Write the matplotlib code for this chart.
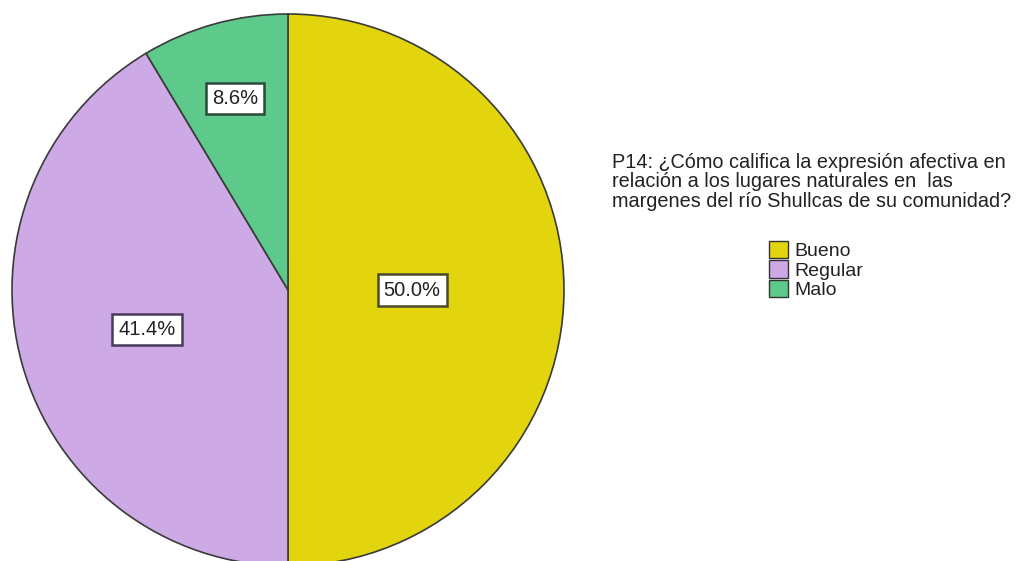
import matplotlib
matplotlib.use("Agg")
import matplotlib.pyplot as plt
from matplotlib.patches import Patch
import numpy as np

categories = ["Bueno", "Regular", "Malo"]
percentages = [50.0, 41.4, 8.6]
colors = ["#E2D50E", "#CDA9E5", "#5DC98B"]
label_texts = ["50.0%", "41.4%", "8.6%"]
title_lines = ["P14: ¿Cómo califica la expresión afectiva en",
               "relación a los lugares naturales en  las",
               "margenes del río Shullcas de su comunidad?"]

W, H = 1018, 561
fig = plt.figure(figsize=(W / 100, H / 100), dpi=100)
ax = fig.add_axes([0, 0, 1, 1])
cx, cy, r = 288, 290, 276

fam = ["Liberation Sans Narrow", "Liberation Sans", "DejaVu Sans"]

wedges, texts = ax.pie(percentages, colors=colors, startangle=90, counterclock=False,
                       radius=1.0, center=(0, 0),
                       wedgeprops=dict(edgecolor="#3a3a3a", linewidth=1.2),
                       frame=True)
ax.set_xlim(-cx / r, (W - cx) / r)
ax.set_ylim(-(H - cy) / r, cy / r)
ax.set_aspect("equal")
ax.axis("off")

label_r = [0.45, 0.53, 0.72]
edgecols = ["#4a4a2a", "#4a3a5a", "#2a4a3a"]
cum = 0
for p, t, lr, ec in zip(percentages, label_texts, label_r, edgecols):
    mid = 90 - (cum + p / 2) * 3.6
    cum += p
    x = lr * np.cos(np.radians(mid))
    y = lr * np.sin(np.radians(mid))
    ax.text(x, y, t, ha="center", va="center", fontsize=14.5, family=fam, color="#222222",
            bbox=dict(boxstyle="square,pad=0.3", facecolor="white", edgecolor=ec, linewidth=1.8))

fig.text(612 / W, 1 - 153 / H, "\n".join(title_lines), ha="left", va="top",
         fontsize=14.3, family=fam, color="#222222", linespacing=1.02)

handles = [Patch(facecolor=c, edgecolor="#333333", linewidth=1.0) for c in colors]
leg = fig.legend(handles, categories, loc="upper left",
                 bbox_to_anchor=(769 / W, 1 - 241 / H), frameon=False,
                 prop=dict(family=fam, size=14), handlelength=1.0, handleheight=1.0,
                 handletextpad=0.3, labelspacing=0.0, borderpad=0, borderaxespad=0)
for t in leg.get_texts():
    t.set_color("#222222")

fig.savefig("out.png", dpi=100)
